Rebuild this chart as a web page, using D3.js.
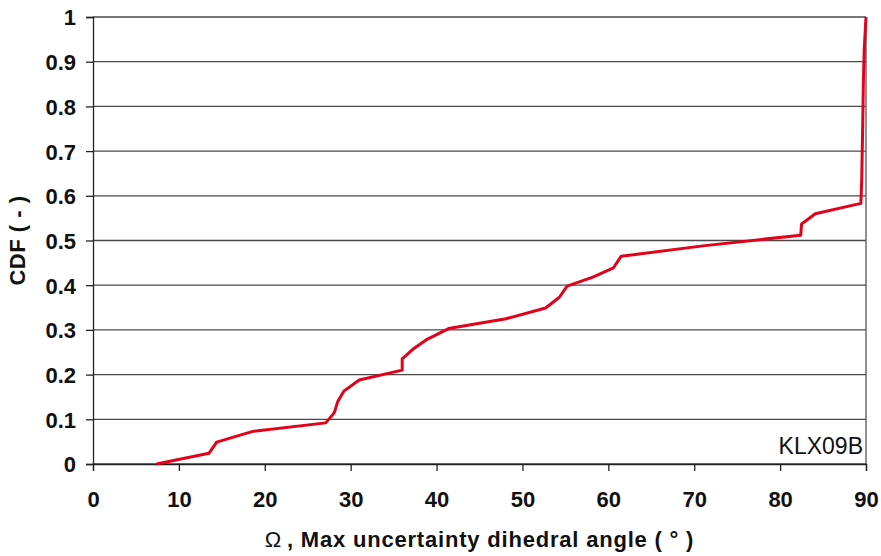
<!DOCTYPE html>
<html>
<head>
<meta charset="utf-8">
<script src="https://cdn.jsdelivr.net/npm/d3@7"></script>
<style>
  body { margin: 0; background: #fff; }
  svg text { font-family: "Liberation Sans", Arial, sans-serif; }
</style>
</head>
<body>
<div id="chart"></div>
<script>
// data: omega (deg) vs CDF
const omega = [7.4, 13.5, 14.4, 18.6, 27.1, 28.1, 28.5, 29.2, 31.0, 36.0, 36.0, 37.2, 38.9, 41.4,
    48.1, 52.7, 54.3, 55.2, 58.2, 60.6, 61.5, 63.6, 71.0, 82.4, 82.5, 84.1, 89.4, 89.5, 89.6, 89.7, 89.8, 90.0]
const cdf = [0.0, 0.024, 0.049, 0.073, 0.092, 0.115, 0.14, 0.163, 0.188, 0.21, 0.235, 0.256, 0.279, 0.303,
    0.325, 0.349, 0.373, 0.398, 0.418, 0.439, 0.465, 0.47, 0.488, 0.512, 0.537, 0.56, 0.583, 0.635, 0.74, 0.86, 0.93, 1.0]
const xTicks = [0, 10, 20, 30, 40, 50, 60, 70, 80, 90]
const yTicks = [0, 0.1, 0.2, 0.3, 0.4, 0.5, 0.6, 0.7, 0.8, 0.9, 1]
const wellLabel = 'KLX09B'

const W = 881, H = 556
const margin = {left: 93, right: 15, top: 17, bottom: 92}

const svg = d3.select('#chart').append('svg')
    .attr('width', W)
    .attr('height', H)

const x = d3.scaleLinear().domain([0, 90]).range([margin.left, W - margin.right])
const y = d3.scaleLinear().domain([0, 1]).range([H - margin.bottom, margin.top])

// gridlines
svg.append('g')
    .selectAll('line')
    .data(yTicks)
    .join('line')
    .attr('x1', x(0))
    .attr('x2', x(90))
    .attr('y1', d => y(d))
    .attr('y2', d => y(d))
    .attr('stroke', '#4a4a4a')
    .attr('stroke-width', 1.3)

// right border
svg.append('line')
    .attr('x1', x(90)).attr('x2', x(90))
    .attr('y1', y(1)).attr('y2', y(0))
    .attr('stroke', '#555')
    .attr('stroke-width', 1.3)

// axes
const xAxis = svg.append('g')
    .attr('transform', `translate(0,${y(0)})`)
    .call(d3.axisBottom(x).tickValues(xTicks).tickSize(7).tickPadding(20).tickFormat(d3.format('d')))

const yAxis = svg.append('g')
    .attr('transform', `translate(${x(0)},0)`)
    .call(d3.axisLeft(y).tickValues(yTicks).tickSize(7).tickPadding(10).tickFormat(d => d === 0 || d === 1 ? d : d.toFixed(1)))

for (const ax of [xAxis, yAxis]) {
    ax.selectAll('path, line').attr('stroke', '#222').attr('stroke-width', 1.3)
    ax.selectAll('text')
        .attr('fill', '#111')
        .style('font-size', '22px')
        .style('font-weight', 'bold')
}
yAxis.selectAll('text').attr('dy', '0.36em')

// the curve
const line = d3.line()
    .x((d, i) => x(omega[i]))
    .y(d => y(d))

svg.append('path')
    .datum(cdf)
    .attr('fill', 'none')
    .attr('stroke', '#e3001b')
    .attr('stroke-width', 3)
    .attr('stroke-linejoin', 'round')
    .attr('d', line)

// labels
svg.append('text')
    .attr('x', x(90) - 3)
    .attr('y', y(0) - 10)
    .attr('text-anchor', 'end')
    .style('font-size', '23px')
    .attr('fill', '#111')
    .text(wellLabel)

const xTitle = svg.append('text')
    .attr('x', (x(0) + x(90)) / 2)
    .attr('y', 547)
    .attr('text-anchor', 'middle')
    .style('font-size', '22px')
    .style('font-weight', 'bold')
    .style('letter-spacing', '0.8px')
    .attr('fill', '#111')
xTitle.append('tspan').style('font-weight', 'normal').text('Ω')
xTitle.append('tspan').attr('dx', 5).text(', Max uncertainty dihedral angle ( ° )')

svg.append('text')
    .attr('transform', `translate(25,${(y(0) + y(1)) / 2}) rotate(-90)`)
    .attr('text-anchor', 'middle')
    .style('font-size', '22px')
    .style('font-weight', 'bold')
    .style('letter-spacing', '0.5px')
    .attr('fill', '#111')
    .text('CDF ( - )')
</script>
</body>
</html>
